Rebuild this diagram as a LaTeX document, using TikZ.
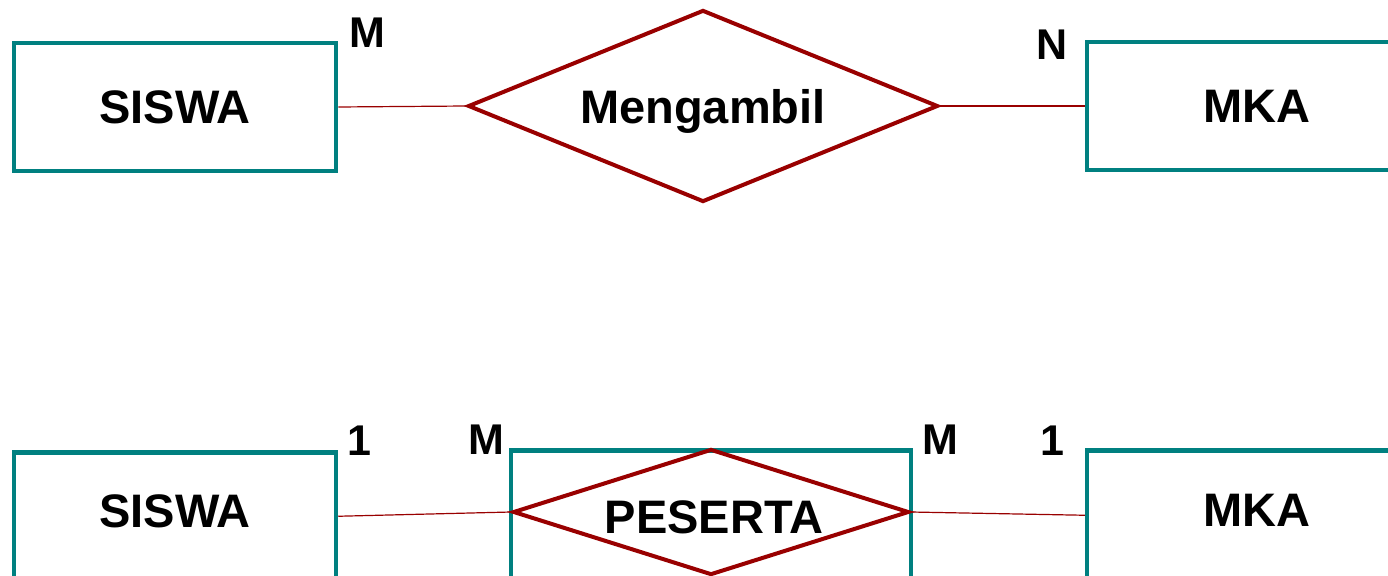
\documentclass[tikz,border=0pt]{standalone}
\usepackage{fontspec}
\setmainfont{Liberation Sans}
\usetikzlibrary{shapes.geometric}

\definecolor{entteal}{RGB}{0,128,128}
\definecolor{relred}{RGB}{153,0,0}
\newcommand{\erfont}{\bfseries\fontsize{47}{56}\selectfont}
\newcommand{\cardfont}{\bfseries\fontsize{43}{50}\selectfont}

\tikzset{
  entity/.style={draw=entteal, line width=4.5pt, minimum width=322pt, minimum height=128pt, inner sep=0pt, font=\erfont, text depth=0pt},
  relation/.style={diamond, draw=relred, line width=4pt, inner sep=0pt},
  reltext/.style={font=\erfont, inner sep=0pt, text depth=0pt},
  link/.style={draw=relred, line width=1.2pt},
  card/.style={font=\cardfont, inner sep=0pt, text depth=0pt}
}

\begin{document}
\begin{tikzpicture}[x=1pt, y=-1pt]
\useasboundingbox (0,0) rectangle (1388,575);
\clip (0,0) rectangle (1388,575);

% many to many
\node[entity] (siswa1) at (175,107) {SISWA};
\node[relation, minimum width=470pt, minimum height=192pt] (ambil) at (703,106) {};
\node[reltext] (ambiltext) at (ambil) {Mengambil};
\node[entity, minimum width=340pt] (mka1) at (1257,106) {MKA};

\draw[link] (siswa1.east) -- (ambil.west);
\draw[link] (ambil.east) -- (mka1.west);

\node[card] (m1) at (367,33) {M};
\node[card] (n1) at (1052,45) {N};

% associative entity
\node[entity, anchor=north, minimum height=132pt, text depth=14pt] (siswa2) at (175,450) {SISWA};
\node[draw=entteal, line width=4.5pt, minimum width=400pt, minimum height=132pt, anchor=north] (pesertabox) at (711,448) {};
\node[relation, minimum width=396pt, minimum height=126pt] (peserta) at (711,512) {};
\node[reltext] (pesertatext) at (714,517) {PESERTA};
\node[entity, anchor=north, minimum width=340pt, minimum height=132pt, text depth=12pt] (mka2) at (1257,448) {MKA};

\draw[link] ([yshift=2pt]siswa2.east) -- (peserta.west);
\draw[link] (peserta.east) -- ([yshift=1pt]mka2.west);

\node[card] (one1) at (359,441) {1};
\node[card] (m2) at (486,440) {M};
\node[card] (m3) at (940,440) {M};
\node[card] (one2) at (1052,441) {1};

\end{tikzpicture}
\end{document}
